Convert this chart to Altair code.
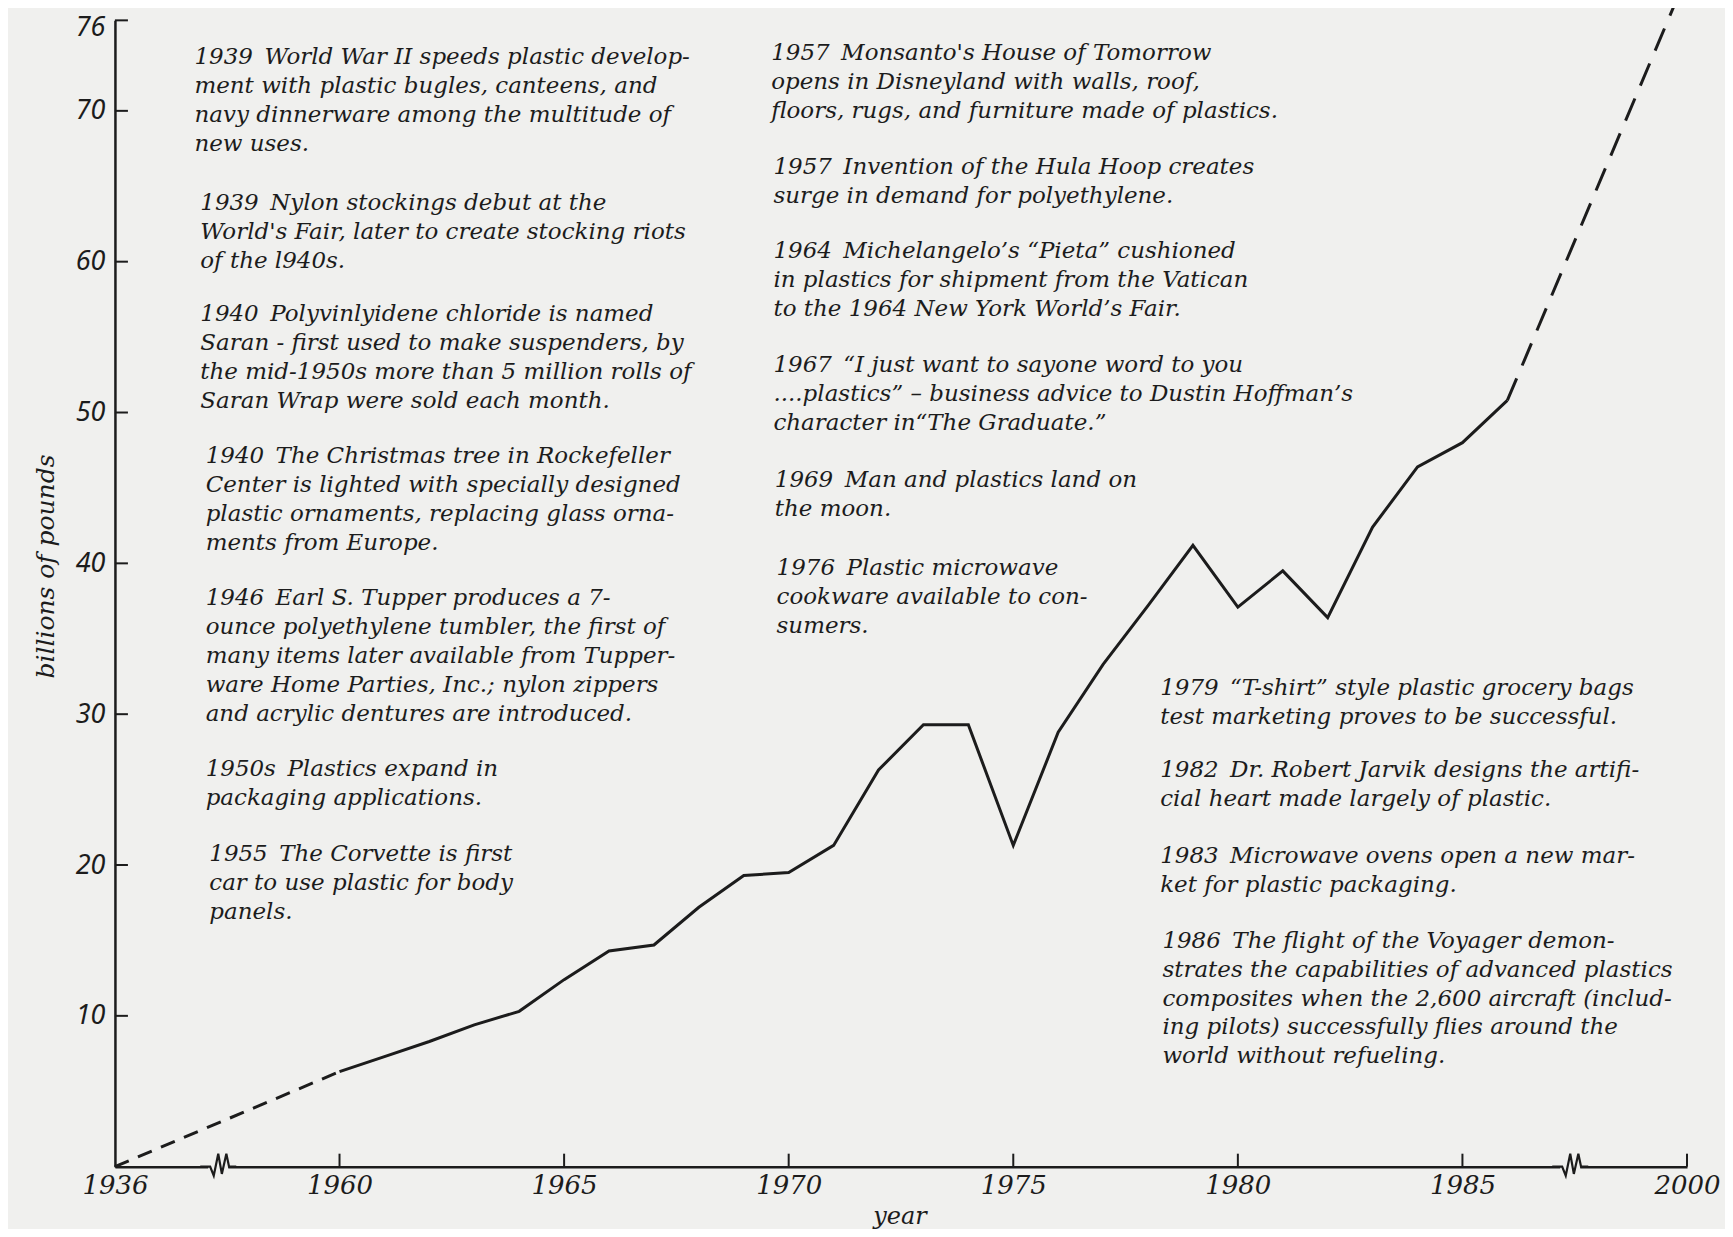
import altair as alt
import pandas as pd

# ---------------- data ----------------
years = [1936, 1960, 1961, 1962, 1963, 1964, 1965, 1966, 1967, 1968, 1969,
         1970, 1971, 1972, 1973, 1974, 1975, 1976, 1977, 1978, 1979,
         1980, 1981, 1982, 1983, 1984, 1985, 1986, 2000]
billions_lb = [0.0, 6.3, 7.3, 8.3, 9.4, 10.3, 12.4, 14.3, 14.7, 17.2, 19.3,
               19.5, 21.3, 26.3, 29.3, 29.3, 21.3, 28.8, 33.3, 37.2, 41.2,
               37.1, 39.5, 36.4, 42.4, 46.4, 48.0, 50.8, 79.0]
solid_from, solid_to = 1960, 1986          # measured (solid) part of the curve

x_tick_years = [1936, 1960, 1965, 1970, 1975, 1980, 1985, 2000]
y_tick_values = [10, 20, 30, 40, 50, 60, 70, 76]

notes = [
    "1939\u2002World War II speeds plastic develop-\nment with plastic bugles, canteens, and\nnavy dinnerware among the multitude of\nnew uses.",
    "1939\u2002Nylon stockings debut at the\nWorld's Fair, later to create stocking riots\nof the l940s.",
    "1940\u2002Polyvinlyidene chloride is named\nSaran - first used to make suspenders, by\nthe mid-1950s more than 5 million rolls of\nSaran Wrap were sold each month.",
    "1940\u2002The Christmas tree in Rockefeller\nCenter is lighted with specially designed\nplastic ornaments, replacing glass orna-\nments from Europe.",
    "1946\u2002Earl S. Tupper produces a 7-\nounce polyethylene tumbler, the first of\nmany items later available from Tupper-\nware Home Parties, Inc.; nylon zippers\nand acrylic dentures are introduced.",
    "1950s\u2002Plastics expand in\npackaging applications.",
    "1955\u2002The Corvette is first\ncar to use plastic for body\npanels.",
    "1957\u2002Monsanto's House of Tomorrow\nopens in Disneyland with walls, roof,\nfloors, rugs, and furniture made of plastics.",
    "1957\u2002Invention of the Hula Hoop creates\nsurge in demand for polyethylene.",
    "1964\u2002Michelangelo\u2019s \u201cPieta\u201d cushioned\nin plastics for shipment from the Vatican\nto the 1964 New York World\u2019s Fair.",
    "1967\u2002\u201cI just want to sayone word to you\n....plastics\u201d \u2013 business advice to Dustin Hoffman\u2019s\ncharacter in\u201cThe Graduate.\u201d",
    "1969\u2002Man and plastics land on\nthe moon.",
    "1976\u2002Plastic microwave\ncookware available to con-\nsumers.",
    "1979\u2002\u201cT-shirt\u201d style plastic grocery bags\ntest marketing proves to be successful.",
    "1982\u2002Dr. Robert Jarvik designs the artifi-\ncial heart made largely of plastic.",
    "1983\u2002Microwave ovens open a new mar-\nket for plastic packaging.",
    "1986\u2002The flight of the Voyager demon-\nstrates the capabilities of advanced plastics\ncomposites when the 2,600 aircraft (includ-\ning pilots) successfully flies around the\nworld without refueling.",
]

# ---------------- layout (positions in axis units) ----------------
note_x = [1956.77, 1956.90, 1956.90, 1957.02, 1957.02, 1957.02, 1957.10,
          1969.61, 1969.66, 1969.66, 1969.66, 1969.69, 1969.73,
          1978.27, 1978.27, 1978.27, 1978.32]
note_y = [74.32, 64.62, 57.25, 47.85, 38.40, 27.12, 21.43,
          74.54, 66.99, 61.44, 53.87, 46.25, 40.45,
          32.47, 27.05, 21.33, 15.72]
axis_breaks = [1957.3, 1987.4]


def to_pos(y):
    """Broken time axis: 1936-1960 and 1986-2000 are compressed."""
    if y < 1960:
        return 1955 + (y - 1936) * 5 / 24
    if y > 1986:
        return 1986 + (y - 1986) * 4 / 14
    return float(y)


INK = "#1c1c1c"
BG = "#f0f0ee"
SERIF = "DejaVu Serif"

rows = []
for yr, v in zip(years, billions_lb):
    p = to_pos(yr)
    if yr <= solid_from:
        rows.append({"pos": p, "v": v, "seg": "early"})
    if solid_from <= yr <= solid_to:
        rows.append({"pos": p, "v": v, "seg": "main"})
    if yr >= solid_to:
        rows.append({"pos": p, "v": v, "seg": "late"})
df = pd.DataFrame(rows)

x_tick_pos = [to_pos(y) for y in x_tick_years]
label_expr = "".join(f"datum.value == {p} ? '{y}' : " for p, y in zip(x_tick_pos, x_tick_years)) + "''"

x_scale = alt.Scale(domain=[to_pos(x_tick_years[0]), to_pos(x_tick_years[-1])], nice=False, zero=False)
y_scale = alt.Scale(domain=[0, y_tick_values[-1]], nice=False, zero=True)

x_enc = alt.X(
    "pos:Q", scale=x_scale,
    axis=alt.Axis(values=x_tick_pos, labelExpr=label_expr, ticks=False, grid=False,
                  domainColor=INK, domainWidth=2.5, labelFont=SERIF, labelFontStyle="italic",
                  labelFontSize=26, labelColor=INK, labelPadding=6, labelFlush=False,
                  labelOverlap=False, title="year", titleFont=SERIF, titleFontStyle="italic",
                  titleFontWeight="normal", titleFontSize=24, titleColor=INK,
                  titleX=785, titleY=57, titleBaseline="alphabetic", titleAlign="center"),
)
y_enc = alt.Y(
    "v:Q", scale=y_scale,
    axis=alt.Axis(values=y_tick_values, ticks=False, grid=False, domainColor=INK,
                  domainWidth=2.5, labelFont="Noto Sans", labelFontStyle="italic",
                  labelFontSize=27, labelColor=INK, labelPadding=10, labelFlush=False,
                  labelOverlap=False,
                  labelOffset={"condition": {"test": f"datum.value == {y_tick_values[-1]}", "value": 7},
                               "value": 0},
                  title="billions of pounds", titleFont=SERIF,
                  titleFontStyle="italic", titleFontWeight="normal", titleFontSize=25,
                  titleColor=INK, titleAngle=270, titleX=-69, titleY=546,
                  titleBaseline="middle", titleAlign="center"),
)

base = alt.Chart(df)
line_main = base.mark_line(color=INK, strokeWidth=3).encode(x=x_enc, y=y_enc).transform_filter(
    alt.datum.seg == "main")
line_early = base.mark_line(color=INK, strokeWidth=3, strokeDash=[15, 10]).encode(
    x="pos:Q", y="v:Q").transform_filter(alt.datum.seg == "early")
line_late = base.mark_line(color=INK, strokeWidth=3, strokeDash=[24, 14]).encode(
    x="pos:Q", y="v:Q").transform_filter(alt.datum.seg == "late")

brk = pd.DataFrame({"pos": axis_breaks, "v": [0.0] * len(axis_breaks)})
eraser = alt.Chart(brk).mark_point(shape="square", size=400, filled=True, fill=BG,
                                   strokeWidth=0, opacity=1).encode(x="pos:Q", y="v:Q")
zigzag = alt.Chart(brk).mark_point(
    shape="M-1,0L-0.45,0L-0.25,0.5L0,-0.72L0.2,0.4L0.45,-0.72L0.6,0L1,0",
    size=1300, filled=False, stroke=INK, strokeWidth=2.2, opacity=1,
    strokeJoin="miter").encode(x="pos:Q", y="v:Q")

xt = pd.DataFrame({"pos": x_tick_pos[1:], "v": [0.0] * (len(x_tick_pos) - 1)})
x_ticks = alt.Chart(xt).mark_point(shape="M0,0L0,-1", size=676, filled=False, stroke=INK,
                                   strokeWidth=2, opacity=1).encode(x="pos:Q", y="v:Q")
yt = pd.DataFrame({"pos": [x_tick_pos[0]] * len(y_tick_values), "v": y_tick_values})
y_ticks = alt.Chart(yt).mark_point(shape="M0,0L1,0", size=676, filled=False, stroke=INK,
                                   strokeWidth=2, opacity=1).encode(x="pos:Q", y="v:Q")

nd = pd.DataFrame({"pos": note_x, "v": note_y, "txt": notes})
texts = alt.Chart(nd).mark_text(align="left", baseline="top", lineBreak="\n", lineHeight=29,
                                font=SERIF, fontStyle="italic", fontSize=23, color=INK).encode(
    x="pos:Q", y="v:Q", text="txt:N")

chart = alt.layer(line_main, line_early, line_late, eraser, zigzag, x_ticks, y_ticks, texts).properties(
    width=1573, height=1147,
    autosize=alt.AutoSizeParams(type="none"),
    padding={"left": 107, "top": 12, "right": 38, "bottom": 62},
    background=BG,
).configure_view(stroke=None)

chart.save("out.html", embed_options={"renderer": "svg", "actions": False})
